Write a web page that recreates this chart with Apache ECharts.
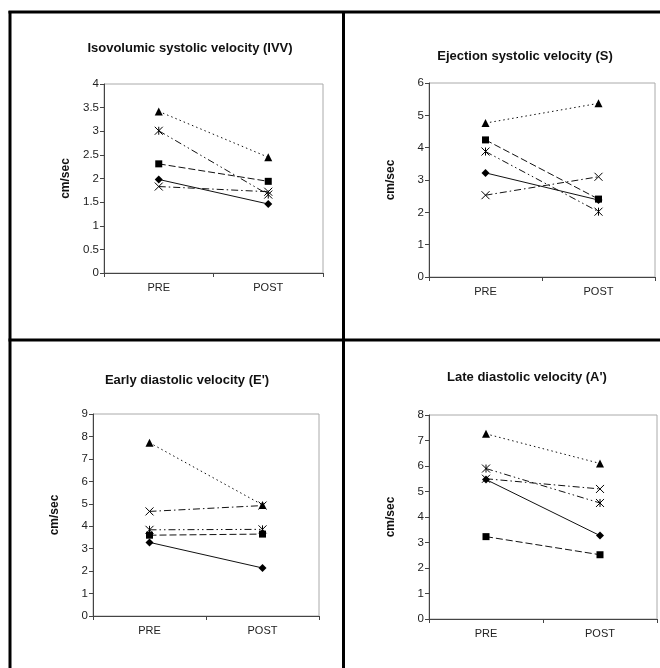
<!DOCTYPE html>
<html>
<head>
<meta charset="utf-8">
<script src="https://cdn.jsdelivr.net/npm/echarts@6/dist/echarts.min.js"></script>
<style>
  html, body { margin: 0; padding: 0; background: #fff; }
  #chart { width: 660px; height: 668px; }
</style>
</head>
<body>
<div id="chart"></div>
<script>
const categories = ["PRE", "POST"];

// Isovolumic systolic velocity (IVV)
const ivvDiamond = [1.98, 1.46];
const ivvSquare = [2.31, 1.94];
const ivvTriangle = [3.42, 2.45];
const ivvCross = [1.83, 1.72];
const ivvStar = [3.01, 1.66];

// Ejection systolic velocity (S)
const sDiamond = [3.22, 2.38];
const sSquare = [4.24, 2.41];
const sTriangle = [4.76, 5.37];
const sCross = [2.53, 3.1];
const sStar = [3.88, 2.02];

// Early diastolic velocity (E')
const eDiamond = [3.28, 2.14];
const eSquare = [3.6, 3.65];
const eTriangle = [7.72, 4.95];
const eCross = [4.66, 4.92];
const eStar = [3.84, 3.86];

// Late diastolic velocity (A')
const aDiamond = [5.47, 3.27];
const aSquare = [3.23, 2.52];
const aTriangle = [7.26, 6.1];
const aCross = [5.5, 5.1];
const aStar = [5.9, 4.55];

const titles = [
  "Isovolumic systolic velocity (IVV)",
  "Ejection systolic velocity (S)",
  "Early diastolic velocity (E')",
  "Late diastolic velocity (A')"
];
const yMax = [4, 6, 9, 8];
const yStep = [0.5, 1, 1, 1];

const panels = [
  [ivvDiamond, ivvSquare, ivvTriangle, ivvCross, ivvStar],
  [sDiamond, sSquare, sTriangle, sCross, sStar],
  [eDiamond, eSquare, eTriangle, eCross, eStar],
  [aDiamond, aSquare, aTriangle, aCross, aStar]
];

// plot boxes (left, top, width, height)
const boxes = [
  [104, 84, 219, 189],
  [429, 83, 226, 194],
  [93, 414, 226, 202],
  [429, 415, 228, 204]
];
const titlePos = [[185, 37], [520, 45], [182, 369], [522, 366]];

const crossPath = "path://M0 0L10 10M10 0L0 10";
const starPath = "path://M0 0L10 10M10 0L0 10M5 0L5 10";

// marker + line style per series (diamond, square, triangle, cross, star)
const looks = [
  { symbol: "diamond", size: 8, dash: "solid" },
  { symbol: "rect", size: 7, dash: [7, 3] },
  { symbol: "triangle", size: 8, dash: [1.5, 3] },
  { symbol: crossPath, size: 8, dash: [7, 3, 1.5, 3] },
  { symbol: starPath, size: 8, dash: [7, 3, 1.5, 3, 1.5, 3] }
];

const grid = [], xAxis = [], yAxis = [], title = [], series = [];
boxes.forEach((b, i) => {
  grid.push({
    left: b[0], top: b[1], width: b[2], height: b[3],
    show: true, borderColor: "#aaa", borderWidth: 1, backgroundColor: "#fff"
  });
  xAxis.push({
    type: "category", gridIndex: i, data: categories, boundaryGap: true,
    axisLine: { lineStyle: { color: "#444", width: 1 } },
    axisTick: { show: true, length: 4, alignWithLabel: false, lineStyle: { color: "#444" } },
    axisLabel: { color: "#222", fontFamily: "Arial", fontSize: 11, margin: 9 }
  });
  yAxis.push({
    type: "value", gridIndex: i, min: 0, max: yMax[i], interval: yStep[i],
    name: "cm/sec", nameLocation: "middle", nameRotate: 90, nameGap: 32,
    nameTextStyle: { color: "#111", fontFamily: "Arial", fontWeight: "bold", fontSize: 12 },
    axisLine: { show: true, lineStyle: { color: "#444", width: 1 } },
    axisTick: { show: true, length: 4, lineStyle: { color: "#444" } },
    axisLabel: { color: "#222", fontFamily: "Arial", fontSize: 11.5, margin: 5 },
    splitLine: { show: false }
  });
  title.push({
    text: titles[i], left: titlePos[i][0], top: titlePos[i][1], textAlign: "center",
    textStyle: { color: "#111", fontFamily: "Arial", fontWeight: "bold", fontSize: 13 }
  });
  panels[i].forEach((vals, k) => {
    const lk = looks[k];
    series.push({
      type: "line", xAxisIndex: i, yAxisIndex: i, data: vals,
      symbol: lk.symbol, symbolSize: lk.size, showAllSymbol: true,
      lineStyle: { color: "#111", width: 1, type: lk.dash },
      itemStyle: { color: "#000", borderColor: "#000", borderWidth: k >= 3 ? 1 : 0 },
      animation: false, z: 3
    });
  });
});

const frame = { stroke: "#000", lineWidth: 3 };
const graphic = [
  { type: "line", shape: { x1: 10, y1: 11, x2: 10, y2: 668 }, style: frame },
  { type: "line", shape: { x1: 8.5, y1: 12, x2: 660, y2: 12 }, style: frame },
  { type: "line", shape: { x1: 343.5, y1: 11, x2: 343.5, y2: 668 }, style: frame },
  { type: "line", shape: { x1: 8.5, y1: 340, x2: 660, y2: 340 }, style: frame }
];

const chart = echarts.init(document.getElementById("chart"));
chart.setOption({
  backgroundColor: "#fff",
  animation: false,
  title, grid, xAxis, yAxis, series, graphic
});
</script>
</body>
</html>
